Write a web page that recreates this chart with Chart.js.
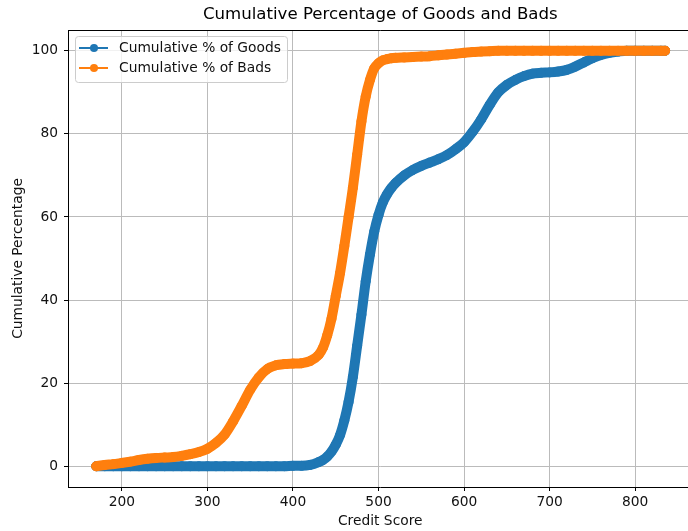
<!DOCTYPE html>
<html>
<head>
<meta charset="utf-8">
<title>Cumulative Percentage of Goods and Bads</title>
<script src="https://cdn.jsdelivr.net/npm/chart.js@4.4.1/dist/chart.umd.min.js"></script>
<style>
  html, body { margin: 0; padding: 0; background: #fff; overflow: hidden; }
  #wrap { width: 698px; height: 531px; }
</style>
</head>
<body>
<div id="wrap"><canvas id="myChart" width="698" height="531"></canvas></div>
<script>
const scores = [
  170, 180, 190, 200, 210, 220, 230, 240, 250, 260, 270, 280, 290, 300, 310, 320, 330, 340, 350, 360,
  370, 380, 390, 400, 410, 420, 430, 435, 440, 445, 450, 455, 460, 465, 470, 475, 480, 485, 490, 495,
  500, 505, 510, 515, 520, 530, 540, 550, 560, 570, 580, 590, 600, 610, 620, 630, 640, 650, 660, 670,
  680, 690, 700, 710, 720, 730, 740, 750, 760, 770, 780, 790, 800, 810, 820, 830, 835
];
const goods = [
  0, 0, 0, 0, 0, 0, 0, 0, 0, 0, 0, 0, 0, 0, 0, 0, 0, 0, 0, 0,
  0, 0, 0, 0.1, 0.1, 0.3, 1.0, 1.5, 2.3, 3.5, 5.2, 7.5, 11, 15.5, 21.5, 29, 36.5, 44.5, 51, 56.5,
  60.5, 63.5, 65.5, 67, 68.2, 70, 71.3, 72.3, 73.1, 73.9, 74.9, 76.3, 78, 80.5, 83.5, 87, 90, 91.8, 93, 93.9,
  94.5, 94.7, 94.8, 95, 95.4, 96.2, 97.2, 98.2, 99, 99.5, 99.8, 100, 100, 100, 100, 100, 100
];
const bads = [
  0, 0.3, 0.5, 0.8, 1.1, 1.5, 1.8, 2.0, 2.1, 2.2, 2.5, 2.9, 3.4, 4.2, 5.6, 7.6, 10.8, 14.5, 18.4, 21.4,
  23.4, 24.3, 24.6, 24.7, 24.8, 25.3, 26.8, 28.5, 31.5, 35.5, 41, 46.5, 53, 60, 67, 75, 83, 89, 93, 95.8,
  97, 97.7, 98, 98.2, 98.3, 98.4, 98.5, 98.6, 98.7, 98.9, 99.1, 99.3, 99.5, 99.7, 99.8, 99.9, 100, 100, 100, 100,
  100, 100, 100, 100, 100, 100, 100, 100, 100, 100, 100, 100, 100, 100, 100, 100, 100
];
const xTicks = [200, 300, 400, 500, 600, 700, 800];
const yTicks = [0, 20, 40, 60, 80, 100];
const seriesNames = ["Cumulative % of Goods", "Cumulative % of Bads"];
const titleText = "Cumulative Percentage of Goods and Bads";
const xLabel = "Credit Score";
const yLabel = "Cumulative Percentage";

const blue = "#1f77b4";
const orange = "#ff7f0e";
const fontFamily = "'DejaVu Sans', sans-serif";

Chart.defaults.font.family = fontFamily;
Chart.defaults.font.size = 13.8;
Chart.defaults.color = "#111";

const toPoints = (ys) => scores.map((x, i) => ({ x: x, y: ys[i] }));

// title, top spine and the boxed legend, drawn the matplotlib way
const framePlugin = {
  id: "frame",
  afterDraw(chart) {
    const { ctx, chartArea } = chart;
    ctx.save();
    ctx.strokeStyle = "#000";
    ctx.lineWidth = 1;
    ctx.beginPath();
    ctx.moveTo(chartArea.left, chartArea.top + 0.5);
    ctx.lineTo(chartArea.right, chartArea.top + 0.5);
    ctx.stroke();

    ctx.fillStyle = "#000";
    ctx.font = "16.6px " + fontFamily;
    ctx.textAlign = "center";
    ctx.textBaseline = "middle";
    ctx.fillText(titleText, (chartArea.left + chartArea.right) / 2, 15);

    const lx = chartArea.left + 7, ly = chartArea.top + 6, lw = 212, lh = 46;
    ctx.beginPath();
    ctx.roundRect(lx + 0.5, ly + 0.5, lw, lh, 3);
    ctx.fillStyle = "rgba(255,255,255,0.8)";
    ctx.fill();
    ctx.strokeStyle = "#cccccc";
    ctx.stroke();

    [blue, orange].forEach((c, i) => {
      const y = ly + 12 + i * 20;
      ctx.strokeStyle = c;
      ctx.lineWidth = 2;
      ctx.beginPath();
      ctx.moveTo(lx + 4, y);
      ctx.lineTo(lx + 33, y);
      ctx.stroke();
      ctx.fillStyle = c;
      ctx.beginPath();
      ctx.arc(lx + 19, y, 4, 0, Math.PI * 2);
      ctx.fill();
      ctx.fillStyle = "#111";
      ctx.font = "13.8px " + fontFamily;
      ctx.textAlign = "left";
      ctx.fillText(seriesNames[i], lx + 44, y + 0.5);
    });
    ctx.restore();
  },
};

const ctx = document.getElementById("myChart");

new Chart(ctx, {
  type: "line",
  data: {
    datasets: [
      {
        label: seriesNames[0],
        data: toPoints(goods),
        borderColor: blue,
        backgroundColor: blue,
        borderWidth: 10,
        pointRadius: 4.5,
        pointBorderWidth: 1,
        borderCapStyle: "round",
        borderJoinStyle: "round",
        cubicInterpolationMode: "monotone",
        fill: false,
        order: 1,
      },
      {
        label: seriesNames[1],
        data: toPoints(bads),
        borderColor: orange,
        backgroundColor: orange,
        borderWidth: 10,
        pointRadius: 4.5,
        pointBorderWidth: 1,
        borderCapStyle: "round",
        borderJoinStyle: "round",
        cubicInterpolationMode: "monotone",
        fill: false,
        order: 0,
      },
    ],
  },
  options: {
    responsive: false,
    animation: false,
    devicePixelRatio: 1,
    events: [],
    layout: { padding: { top: 30, right: 0, left: 0, bottom: 0 } },
    plugins: {
      legend: { display: false },
      tooltip: { enabled: false },
    },
    scales: {
      x: {
        type: "linear",
        min: 137,
        max: 867,
        afterBuildTicks: (axis) => { axis.ticks = xTicks.map((v) => ({ value: v })); },
        afterFit: (axis) => { axis.height = 44; },
        grid: { color: "#bbbbbb", lineWidth: 1, tickColor: "#000", tickLength: 4 },
        border: { display: true, color: "#000", width: 1 },
        ticks: { padding: 3, maxRotation: 0 },
        title: { display: true, text: xLabel, padding: { top: 0, bottom: 1 } },
      },
      y: {
        min: -5,
        max: 105,
        afterBuildTicks: (axis) => { axis.ticks = yTicks.map((v) => ({ value: v })); },
        afterFit: (axis) => { axis.width = 68; },
        grid: { color: "#bbbbbb", lineWidth: 1, tickColor: "#000", tickLength: 4 },
        border: { display: true, color: "#000", width: 1 },
        ticks: { padding: 6 },
        title: { display: true, text: yLabel, padding: { top: 10, bottom: 0 } },
      },
    },
  },
  plugins: [framePlugin],
});
</script>
</body>
</html>
